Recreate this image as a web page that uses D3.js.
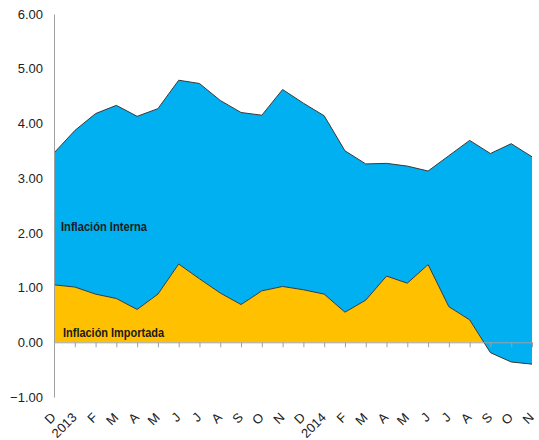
<!DOCTYPE html>
<html>
<head>
<meta charset="utf-8">
<script src="https://cdn.jsdelivr.net/npm/d3@7"></script>
<style>
  body { margin: 0; background: #fff; }
  svg { display: block; }
  .area-label { font-family: "Liberation Sans", Arial, sans-serif; font-weight: bold; font-size: 13px; fill: #1a1a1a; }
  .tick text { font-family: "Liberation Sans", Arial, sans-serif; font-size: 13px; }
</style>
</head>
<body>
<svg id="chart"></svg>
<script>
const width = 539;
const height = 440;

// months Dec 2012 .. Nov 2014
const months = ["D", "2013", "F", "M", "A", "M", "J", "J", "A", "S", "O", "N",
                "D", "2014", "F", "M", "A", "M", "J", "J", "A", "S", "O", "N"];
// imported inflation (bottom series)
const importada = [1.05, 1.01, 0.88, 0.80, 0.60, 0.88, 1.43, 1.16, 0.90, 0.69, 0.94, 1.02,
                   0.96, 0.88, 0.55, 0.77, 1.21, 1.08, 1.42, 0.65, 0.41, -0.19, -0.36, -0.40];
// internal inflation (stacked on top)
const interna = [2.41, 2.86, 3.30, 3.53, 3.53, 3.39, 3.36, 3.57, 3.52, 3.51, 3.21, 3.60,
                 3.41, 3.26, 2.95, 2.49, 2.06, 2.14, 1.71, 2.76, 3.28, 3.64, 3.99, 3.79];
const yTicks = [-1, 0, 1, 2, 3, 4, 5, 6];

const margin = {top: 14, bottom: 43, left: 54, right: 7};

const svg = d3.select("svg#chart")
  .attr("width", width)
  .attr("height", height);

// stack by hand: interna sits on top of importada
const rows = months.map((m, i) => ({
  i: i,
  imp: importada[i],
  total: importada[i] + interna[i]
}));

const x = d3.scalePoint()
  .domain(d3.range(months.length))
  .range([margin.left, width - margin.right]);

const y = d3.scaleLinear()
  .domain([-1, 6])
  .range([height - margin.bottom, margin.top]);

// orange area: 0 -> imported
const areaImp = d3.area()
  .x(d => x(d.i))
  .y0(y(0))
  .y1(d => y(d.imp));

// blue area: imported -> total (drawn on top, covers negatives)
const areaInt = d3.area()
  .x(d => x(d.i))
  .y0(d => y(d.imp))
  .y1(d => y(d.total));

svg.append("path")
  .datum(rows)
  .attr("fill", "#FFC000")
  .attr("d", areaImp);

svg.append("path")
  .datum(rows)
  .attr("fill", "#00B0F0")
  .attr("d", areaInt);

// dark outlines
svg.append("path")
  .datum(rows)
  .attr("fill", "none")
  .attr("stroke", "#3a3a3a")
  .attr("stroke-width", 1)
  .attr("d", d3.line().x(d => x(d.i)).y(d => y(d.imp)));

svg.append("path")
  .datum(rows)
  .attr("fill", "none")
  .attr("stroke", "#3a3a3a")
  .attr("stroke-width", 1)
  .attr("d", d3.line().x(d => x(d.i)).y(d => y(d.total)));

// Y axis
const yAxis = svg.append("g")
  .attr("transform", "translate(" + margin.left + ",0)")
  .call(d3.axisLeft(y).tickValues(yTicks).tickFormat(d3.format(".2f")).tickSize(0).tickPadding(11));
yAxis.select(".domain").attr("stroke", "#a0a0a0");
yAxis.selectAll("text").attr("fill", "#222");

// zero line with ticks
const xAxis = svg.append("g")
  .attr("transform", "translate(0," + y(0) + ")")
  .call(d3.axisBottom(x).tickSize(5).tickSizeOuter(0).tickFormat(""));
xAxis.select(".domain").attr("stroke", "#a0a0a0");
xAxis.selectAll(".tick line").attr("stroke", "#a0a0a0");

// month labels below the plot
const xLabels = svg.append("g")
  .attr("transform", "translate(0," + (height - margin.bottom) + ")")
  .call(d3.axisBottom(x).tickSize(0).tickFormat(i => months[i]));
xLabels.select(".domain").remove();
xLabels.selectAll("text")
  .attr("fill", "#222")
  .attr("text-anchor", "end")
  .attr("x", 0)
  .attr("y", 0)
  .attr("dy", "0.35em")
  .attr("transform", "translate(-1,18) rotate(-45)");

// series labels
svg.append("text")
  .attr("class", "area-label")
  .attr("x", x(0) + 7)
  .attr("y", y(2.03))
  .attr("textLength", 86)
  .attr("lengthAdjust", "spacingAndGlyphs")
  .text("Inflación Interna");

svg.append("text")
  .attr("class", "area-label")
  .attr("x", x(0) + 9)
  .attr("y", y(0.10))
  .attr("textLength", 101)
  .attr("lengthAdjust", "spacingAndGlyphs")
  .text("Inflación Importada");
</script>
</body>
</html>
